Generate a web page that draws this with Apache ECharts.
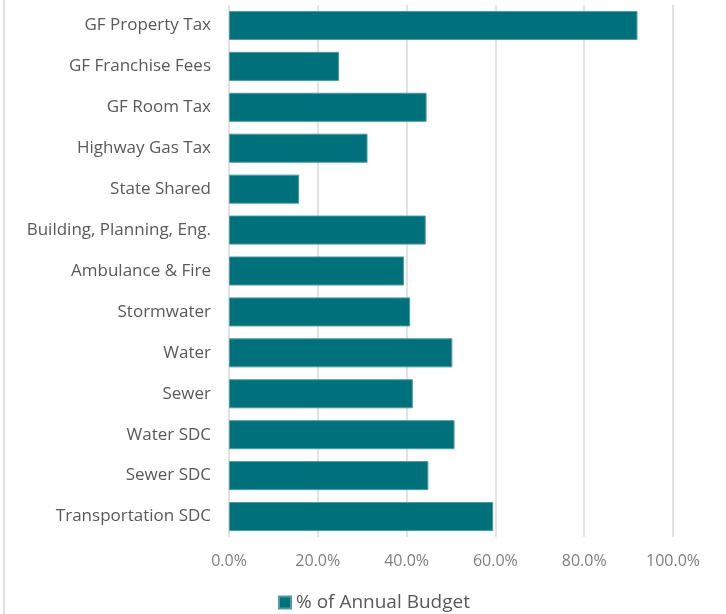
<!DOCTYPE html>
<html>
<head>
<meta charset="utf-8">
<script src="https://cdn.jsdelivr.net/npm/echarts@6/dist/echarts.min.js"></script>
<style>html,body{margin:0;padding:0;background:#fff;}#c{width:726px;height:614px;}</style>
</head>
<body>
<div id="c"></div>
<script>
const categories = ["GF Property Tax","GF Franchise Fees","GF Room Tax","Highway Gas Tax","State Shared","Building, Planning, Eng.","Ambulance & Fire","Stormwater","Water","Sewer","Water SDC","Sewer SDC","Transportation SDC"];
const pctOfBudget = [92.0, 24.8, 44.5, 31.2, 15.8, 44.3, 39.4, 40.8, 50.3, 41.4, 50.8, 44.9, 59.5];
const xTicks = [0, 20, 40, 60, 80, 100];
const seriesName = "% of Annual Budget";

const chart = echarts.init(document.getElementById('c'), null, {renderer: 'canvas'});
const font = '"Open Sans", sans-serif';
chart.setOption({
  animation: false,
  backgroundColor: '#ffffff',
  textStyle: {fontFamily: font},
  grid: {left: 229, right: 53, top: 5, bottom: 77, containLabel: false},
  legend: {
    top: 588, left: 273,
    itemWidth: 12, itemHeight: 12, itemGap: 6,
    icon: 'rect',
    textStyle: {fontFamily: font, fontSize: 19, color: '#595959'},
    data: [seriesName]
  },
  xAxis: {
    type: 'value',
    min: xTicks[0], max: xTicks[xTicks.length - 1], interval: xTicks[1] - xTicks[0],
    axisLine: {show: false}, axisTick: {show: false},
    splitLine: {lineStyle: {color: '#d9d9d9', width: 1.5}},
    axisLabel: {margin: 16, fontSize: 16, color: '#7f7f7f', fontFamily: font,
      formatter: v => v.toFixed(1) + '%'}
  },
  yAxis: {
    type: 'category', data: categories, inverse: true,
    axisLine: {show: false}, axisTick: {show: false},
    axisLabel: {margin: 18, fontSize: 17, color: '#595959', fontFamily: font}
  },
  series: [{
    name: seriesName, type: 'bar', data: pctOfBudget,
    barCategoryGap: '29%',
    itemStyle: {color: '#00707a', borderColor: '#4c9ca1', borderWidth: 1}
  }],
  graphic: [{
    type: 'line', shape: {x1: 4, y1: 0, x2: 4, y2: 614},
    style: {stroke: '#e3e3e3', lineWidth: 2}, silent: true
  }]
});
</script>
</body>
</html>
